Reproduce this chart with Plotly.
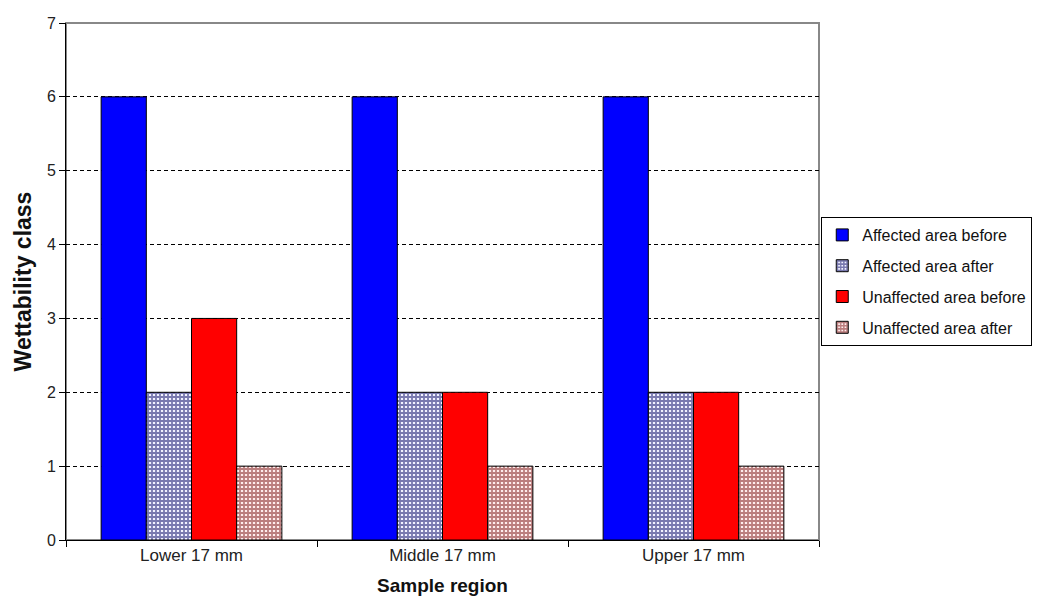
import plotly.graph_objects as go

regions = ["Lower 17 mm", "Middle 17 mm", "Upper 17 mm"]
affected_before = [6, 6, 6]
affected_after = [2, 2, 2]
unaffected_before = [3, 2, 2]
unaffected_after = [1, 1, 1]

FONT = "Liberation Sans, Arial, sans-serif"

series = [
    ("Affected area before", affected_before, dict(color="#0000FF")),
    ("Affected area after", affected_after,
     dict(color="#F2F2FF", pattern=dict(shape="+", fgcolor="#000060", bgcolor="#F2F2FF",
                                        size=4, solidity=0.7))),
    ("Unaffected area before", unaffected_before, dict(color="#FF0000")),
    ("Unaffected area after", unaffected_after,
     dict(color="#FFEDED", pattern=dict(shape="+", fgcolor="#781010", bgcolor="#FFEDED",
                                        size=4, solidity=0.7))),
]

fig = go.Figure()
for i, (name, vals, marker) in enumerate(series):
    marker = dict(marker)
    marker["line"] = dict(color="black", width=1)
    fig.add_trace(go.Bar(name=name, x=regions, y=vals, marker=marker,
                         legendgroup=f"g{i}"))

fig.update_layout(
    width=1040, height=606,
    margin=dict(l=66, r=221, t=23, b=66, autoexpand=False),
    paper_bgcolor="white", plot_bgcolor="white",
    barmode="group", bargap=0.28, bargroupgap=0,
    font=dict(family=FONT, size=16, color="#222"),
    legend=dict(
        x=1.003, xanchor="left", y=0.5, yanchor="middle",
        bordercolor="black", borderwidth=1, bgcolor="white",
        font=dict(family=FONT, size=16, color="#111"),
        traceorder="grouped", tracegroupgap=7, itemwidth=30,
    ),
    xaxis=dict(
        showline=True, linecolor="black", linewidth=1,
        ticks="outside", tickson="boundaries", ticklen=6, tickcolor="black",
        title=dict(text="<b>Sample region</b>", font=dict(family=FONT, size=19, color="#111"),
                   standoff=14),
        tickfont=dict(family=FONT, size=17, color="#222"),
    ),
    yaxis=dict(
        range=[0, 7], dtick=1, showline=True, linecolor="black", linewidth=1,
        ticks="outside", ticklen=6, tickcolor="black",
        showgrid=True, gridcolor="black", griddash="4px,3px", gridwidth=1,
        zeroline=False,
        title=dict(text="<b>Wettability class</b>", font=dict(family=FONT, size=23, color="#111"),
                   standoff=8),
        tickfont=dict(family=FONT, size=16, color="#222"),
    ),
    shapes=[dict(type="rect", xref="paper", yref="paper", x0=0, x1=1, y0=0, y1=1,
                 line=dict(color="#888", width=2), layer="below")],
)

fig.write_html("out.html")
